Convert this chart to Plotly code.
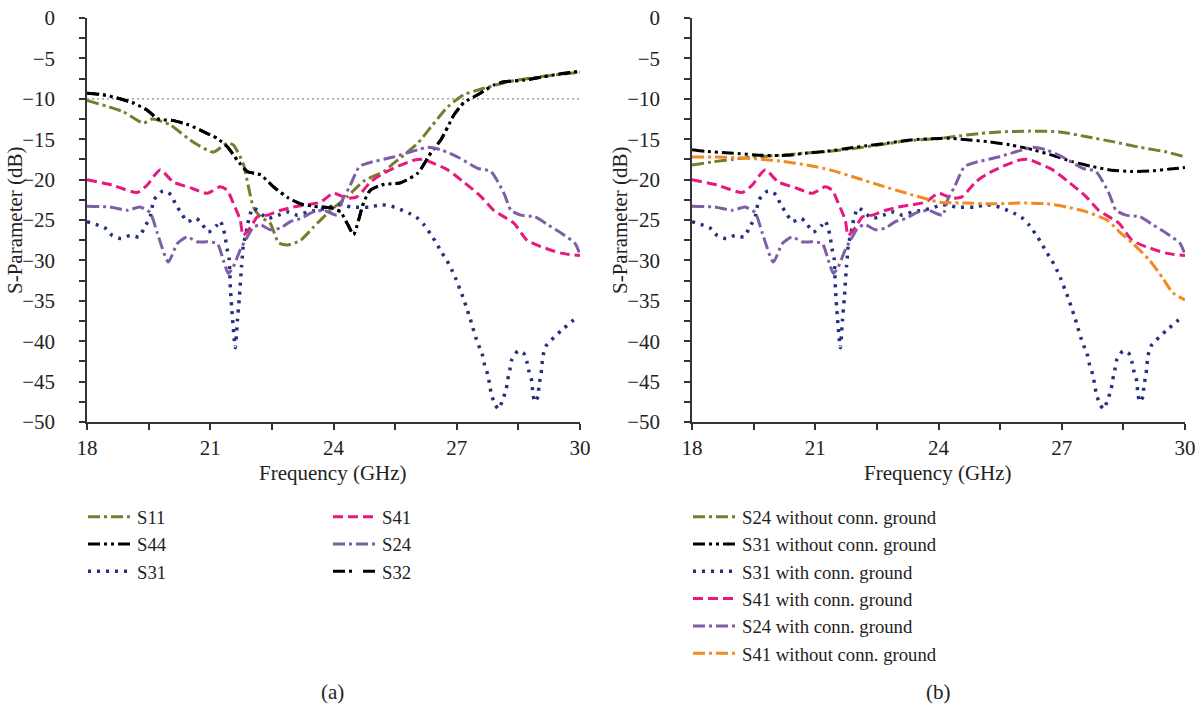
import plotly.graph_objects as go

# ---------------- data: panel (a) ----------------
s11_f = [18.0, 18.88, 19.37, 19.59, 20.02, 20.51, 21.07, 21.41, 21.56, 21.80, 21.93, 22.05, 22.22, 22.46,
         22.66, 22.88, 23.20, 23.51, 23.93, 24.34, 24.73, 25.22, 25.46, 26.05, 26.37, 26.78, 27.17, 27.66,
         28.24, 28.98, 30.0]
s11_v = [-10.2, -11.6, -13.0, -12.5, -13.2, -15.1, -16.6, -15.5, -15.7, -18.0, -20.9, -23.4, -24.6, -25.4,
         -27.8, -28.1, -27.5, -25.9, -23.8, -22.1, -20.2, -19.0, -18.0, -15.5, -13.5, -11.0, -9.5, -8.7,
         -7.9, -7.3, -6.7]

s44_f = [18.0, 18.39, 18.73, 19.12, 19.46, 19.73, 20.10, 20.46, 20.93, 21.17, 21.41, 21.66, 21.90, 22.22,
         22.54, 22.88, 23.20, 23.51, 23.93, 24.17, 24.34, 24.49, 24.61, 24.73, 24.90, 25.22, 25.63, 26.05,
         26.37, 26.61, 26.78, 26.93, 27.17, 27.51, 27.90, 28.15, 28.63, 28.98, 29.54, 30.0]
s44_v = [-9.3, -9.5, -9.9, -10.5, -11.4, -12.5, -12.7, -13.2, -14.3, -14.9, -15.9, -17.6, -19.0, -19.4,
         -20.9, -22.2, -23.0, -23.3, -23.5, -24.0, -25.5, -26.8, -25.0, -22.9, -21.3, -20.6, -20.4, -19.2,
         -16.7, -15.1, -13.5, -12.0, -10.5, -9.5, -8.3, -7.9, -7.7, -7.4, -6.9, -6.6]

# S32 lies on top of S44 in the picture
s32_f = [18.0, 18.39, 18.73, 19.12, 19.46, 19.73, 20.10, 20.46, 20.93, 21.17, 21.41, 21.66, 21.90, 22.22,
         22.54, 22.88, 23.20, 23.51, 23.93, 24.17, 24.34, 24.49, 24.61, 24.73, 24.90, 25.22, 25.63, 26.05,
         26.37, 26.61, 26.78, 26.93, 27.17, 27.51, 27.90, 28.15, 28.63, 28.98, 29.54, 30.0]
s32_v = [-9.3, -9.5, -9.9, -10.5, -11.4, -12.5, -12.7, -13.2, -14.3, -14.9, -15.9, -17.6, -19.0, -19.4,
         -20.9, -22.2, -23.0, -23.3, -23.5, -24.0, -25.5, -26.8, -25.0, -22.9, -21.3, -20.6, -20.4, -19.2,
         -16.7, -15.1, -13.5, -12.0, -10.5, -9.5, -8.3, -7.9, -7.7, -7.4, -6.9, -6.6]

s31_f = [18.0, 18.44, 18.61, 18.83, 19.05, 19.27, 19.39, 19.54, 19.63, 19.85, 20.05, 20.15, 20.29, 20.44,
         20.66, 20.80, 20.95, 21.15, 21.24, 21.32, 21.37, 21.41, 21.46, 21.49, 21.54, 21.61, 21.66, 21.71,
         21.76, 21.78, 21.80, 21.90, 21.95, 22.05, 22.39, 22.66, 22.90, 23.12, 23.37, 23.61, 23.85, 24.10,
         24.44, 24.88, 25.17, 25.41, 25.63, 25.85, 26.05, 26.22, 26.37, 26.51, 26.63, 26.76, 26.88, 26.98,
         27.07, 27.17, 27.24, 27.32, 27.39, 27.46, 27.54, 27.63, 27.68, 27.76, 27.80, 27.85, 27.93, 28.02,
         28.12, 28.20, 28.24, 28.29, 28.34, 28.49, 28.63, 28.71, 28.76, 28.83, 28.85, 28.90, 28.98, 29.00,
         29.05, 29.07, 29.10, 29.17, 29.37, 29.54, 29.93]
s31_v = [-25.2, -26.0, -26.9, -27.3, -26.9, -27.1, -26.0, -24.6, -22.5, -21.4, -21.9, -23.0, -24.1, -25.2,
         -24.8, -25.5, -26.5, -25.7, -25.1, -26.1, -27.3, -28.6, -29.8, -33.4, -37.1, -40.8, -37.5, -34.5,
         -30.8, -29.6, -28.3, -25.9, -24.6, -23.5, -24.8, -24.4, -24.0, -24.4, -24.0, -23.8, -23.5, -23.1,
         -23.4, -23.4, -23.1, -23.3, -23.7, -24.2, -24.8, -25.7, -26.8, -27.9, -29.0, -30.0, -31.2, -32.3,
         -33.5, -34.8, -35.9, -37.1, -38.3, -39.5, -40.6, -41.8, -43.0, -44.2, -45.4, -46.7, -47.8, -48.4,
         -47.2, -46.0, -44.8, -43.6, -42.3, -41.2, -41.5, -42.6, -43.8, -45.0, -46.4, -47.5, -46.8, -45.4,
         -44.2, -43.1, -41.8, -40.6, -39.5, -38.7, -37.0]

s41_f = [18.0, 18.63, 19.22, 19.46, 19.78, 20.10, 20.51, 20.93, 21.24, 21.41, 21.56, 21.73, 21.80, 21.98,
         22.15, 22.39, 22.71, 23.02, 23.37, 23.68, 24.00, 24.34, 24.58, 24.90, 25.22, 25.46, 25.95, 26.20,
         26.44, 26.78, 27.17, 27.59, 27.90, 28.39, 28.71, 29.05, 29.54, 30.0]
s41_v = [-20.0, -20.7, -21.6, -20.7, -18.8, -20.3, -21.0, -21.7, -20.9, -21.3, -22.9, -25.0, -26.9, -25.9,
         -24.6, -24.4, -23.8, -23.4, -23.1, -22.8, -21.7, -22.3, -22.1, -20.3, -19.2, -18.6, -17.6, -17.5,
         -18.0, -18.8, -20.3, -22.1, -23.8, -25.4, -27.5, -28.3, -29.1, -29.4]

s24_f = [18.0, 18.56, 18.98, 19.29, 19.54, 19.71, 19.98, 20.20, 20.44, 20.68, 20.93, 21.17, 21.32, 21.44,
         21.56, 21.73, 21.90, 22.05, 22.22, 22.46, 22.71, 22.95, 23.20, 23.51, 23.76, 24.10, 24.22, 24.39,
         24.63, 24.88, 25.46, 26.05, 26.29, 26.61, 27.02, 27.51, 27.83, 28.15, 28.32, 28.56, 28.90, 29.22,
         29.54, 29.88, 30.0]
s24_v = [-23.3, -23.4, -23.8, -23.4, -24.1, -26.6, -30.2, -27.9, -27.1, -27.7, -27.7, -27.9, -30.0, -31.6,
         -30.8, -28.7, -27.1, -25.9, -25.6, -26.2, -26.0, -25.2, -24.8, -24.0, -23.8, -24.4, -22.5, -20.9,
         -18.4, -17.9, -17.2, -16.3, -16.0, -16.3, -17.2, -18.6, -19.0, -21.7, -23.8, -24.4, -24.6, -25.6,
         -26.6, -27.9, -29.3]

threshold_db = -10

# ---------------- data: panel (b), curves without connected ground ----------------
s24wo_f = [18.0, 18.51, 19.0, 19.48, 20.14, 20.80, 21.36, 22.01, 22.57, 23.23, 24.03, 24.35, 25.0, 25.49,
           26.22, 26.95, 27.61, 28.24, 28.90, 29.56, 30.0]
s24wo_v = [-18.2, -17.8, -17.5, -17.2, -17.0, -16.7, -16.5, -16.1, -15.7, -15.2, -14.9, -14.7, -14.3, -14.1,
           -14.0, -14.1, -14.7, -15.3, -16.0, -16.6, -17.2]

s31wo_f = [18.0, 18.34, 18.92, 19.73, 20.31, 20.80, 21.28, 21.84, 22.26, 22.74, 23.30, 24.03, 24.35, 24.76,
           25.18, 25.74, 26.30, 26.78, 27.27, 27.76, 28.17, 28.73, 29.22, 29.63, 30.0]
s31wo_v = [-16.3, -16.5, -16.7, -17.0, -17.0, -16.7, -16.5, -16.1, -15.8, -15.5, -15.1, -14.9, -14.9, -15.1,
           -15.3, -15.7, -16.3, -17.0, -17.8, -18.4, -18.8, -19.0, -18.9, -18.7, -18.5]

s41wo_f = [18.0, 18.51, 19.09, 19.73, 20.14, 20.80, 21.36, 22.01, 22.57, 23.23, 23.79, 24.03, 24.59, 25.42,
           25.98, 26.64, 27.12, 27.61, 28.10, 28.41, 28.73, 29.14, 29.46, 29.70, 30.0]
s41wo_v = [-17.2, -17.2, -17.3, -17.5, -17.7, -18.2, -18.8, -19.8, -20.7, -21.7, -22.5, -22.8, -22.9, -23.0,
           -22.9, -23.0, -23.4, -24.0, -25.0, -26.5, -27.9, -30.0, -32.2, -34.0, -34.9]

# ---------------- style ----------------
OLIVE = "#7b7b30"
BLACK = "#000000"
NAVY = "#25307f"
PINK = "#e8187c"
PURPLE = "#7e5ea8"
ORANGE = "#f28a22"
FONT = "Liberation Serif"

DASHDOT = "12px,4px,3px,4px"
DASHDOTDOT = "12px,4px,3px,4px,3px,4px"
DASHDOT_ALIGNED = "12px,4px,3px,11px"   # same period as DASHDOTDOT, so the overlapping curves keep their gaps
DASHED = "10px,5px"
DOTTED = "3px,6px"

fig = go.Figure()


def add(x, y, name, color, dash, width, xa, ya, legend, show=True):
    fig.add_trace(go.Scatter(
        x=x, y=y, name=name, mode="lines",
        line=dict(color=color, dash=dash, width=width, shape="spline", smoothing=0.6),
        xaxis=xa, yaxis=ya, legend=legend, showlegend=show))


# panel (a)
fig.add_trace(go.Scatter(x=[18, 30], y=[threshold_db, threshold_db], mode="lines",
                         line=dict(color="#8c8c8c", width=1.2, dash="2px,3px"),
                         xaxis="x", yaxis="y", showlegend=False, hoverinfo="skip"))
add(s11_f, s11_v, "S11", OLIVE, DASHDOT, 3, "x", "y", "legend")
add(s44_f, s44_v, "S44", BLACK, DASHDOTDOT, 3, "x", "y", "legend")
add(s31_f, s31_v, "S31", NAVY, DOTTED, 3.5, "x", "y", "legend")
add(s41_f, s41_v, "S41", PINK, DASHED, 3, "x", "y", "legend2")
add(s24_f, s24_v, "S24", PURPLE, DASHDOT, 3, "x", "y", "legend2")
add(s32_f, s32_v, "S32", BLACK, DASHDOT_ALIGNED, 3, "x", "y", "legend2")

# panel (b)
add(s24wo_f, s24wo_v, "S24 without conn. ground", OLIVE, DASHDOT, 3, "x2", "y2", "legend3")
add(s31wo_f, s31wo_v, "S31 without conn. ground", BLACK, DASHDOTDOT, 3, "x2", "y2", "legend3")
add(s31_f, s31_v, "S31 with conn. ground", NAVY, DOTTED, 3.5, "x2", "y2", "legend3")
add(s41_f, s41_v, "S41 with conn. ground", PINK, DASHED, 3, "x2", "y2", "legend3")
add(s24_f, s24_v, "S24 with conn. ground", PURPLE, DASHDOT, 3, "x2", "y2", "legend3")
add(s41wo_f, s41wo_v, "S41 without conn. ground", ORANGE, DASHDOT, 3, "x2", "y2", "legend3")

W, H = 1202, 707


def px_x(p):
    return p / W


def px_y(p):
    return 1 - p / H


axis_common = dict(
    showline=True, linecolor="#333333", linewidth=1.5, ticks="outside", ticklen=6,
    tickwidth=1.5, tickcolor="#333333", showgrid=False, zeroline=False,
    tickfont=dict(family=FONT, size=21, color="#222222"), mirror=False,
)
xaxis_common = dict(axis_common, range=[18, 30], tickvals=[18, 21, 24, 27, 30], ticklabelstandoff=0,
                    minor=dict(dtick=1.5, tick0=18, ticks="outside", ticklen=6, tickwidth=1.5, tickcolor="#333333"))
yaxis_common = dict(axis_common, range=[-50, 0], dtick=5, ticklabelstandoff=20,
                    minor=dict(dtick=2.5, ticks="outside", ticklen=6, tickwidth=1.5, tickcolor="#333333"))

top, bottom = 18, 422
legend_common = dict(font=dict(family=FONT, size=18.7, color="#222222"), bgcolor="rgba(0,0,0,0)",
                     xanchor="left", yanchor="top", tracegroupgap=0, itemwidth=44)

fig.update_layout(
    width=W, height=H, margin=dict(l=0, r=0, t=0, b=0, pad=0, autoexpand=False),
    paper_bgcolor="white", plot_bgcolor="white",
    xaxis=dict(xaxis_common, domain=[px_x(87), px_x(580)], anchor="y"),
    yaxis=dict(yaxis_common, domain=[px_y(bottom), px_y(top)], anchor="x"),
    xaxis2=dict(xaxis_common, domain=[px_x(692), px_x(1185)], anchor="y2"),
    yaxis2=dict(yaxis_common, domain=[px_y(bottom), px_y(top)], anchor="x2"),
    legend=dict(legend_common, x=px_x(83), y=px_y(498)),
    legend2=dict(legend_common, x=px_x(328), y=px_y(498)),
    legend3=dict(legend_common, x=px_x(688), y=px_y(498)),
    showlegend=True,
)

ann_font = dict(family=FONT, size=21, color="#222222")


def ann(text, x, y, angle=0):
    return dict(text=text, x=px_x(x), y=px_y(y), xref="paper", yref="paper", showarrow=False,
                xanchor="center", yanchor="middle", textangle=angle, font=ann_font)


annotations = [
    ann("Frequency (GHz)", 333, 473),
    ann("Frequency (GHz)", 938, 473),
    ann("S-Parameter (dB)", 15, 220, -90),
    ann("S-Parameter (dB)", 620, 220, -90),
    ann("(a)", 333, 692),
    ann("(b)", 938, 692),
]
fig.update_layout(annotations=annotations)

fig.write_html("out.html")
